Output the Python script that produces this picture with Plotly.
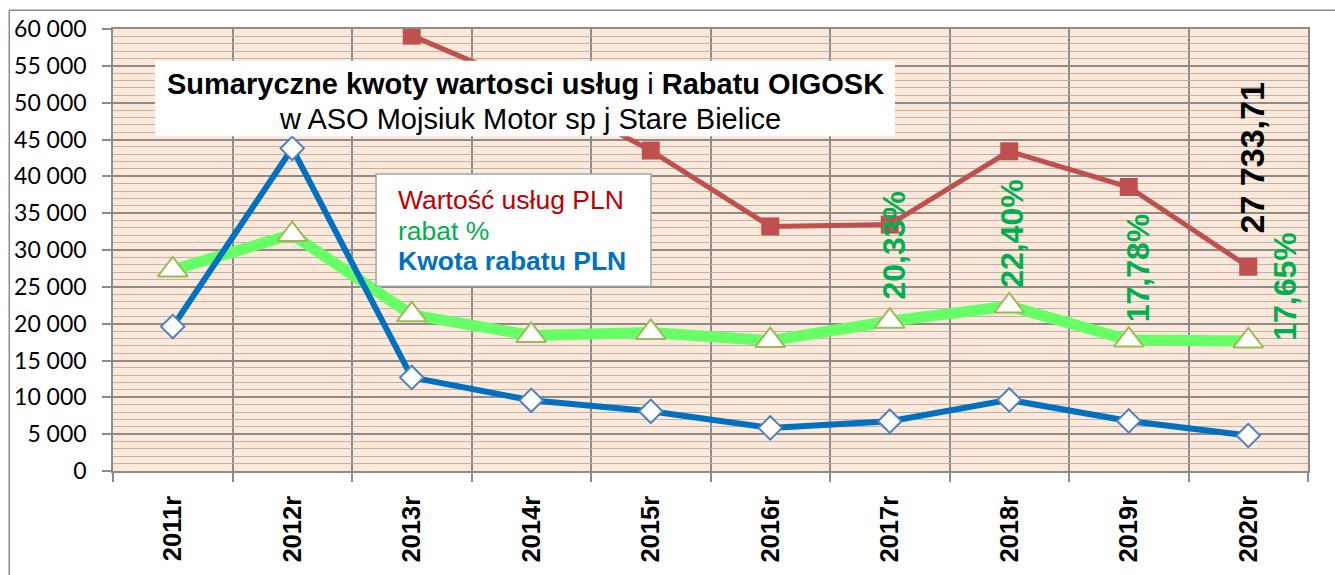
import plotly.graph_objects as go

years = ["2011r", "2012r", "2013r", "2014r", "2015r", "2016r", "2017r", "2018r", "2019r", "2020r"]
wartosc_uslug = [None, None, 59100, 52200, 43500, 33200, 33450, 43400, 38550, 27733.71]
rabat_pct = [27.3, 32.1, 21.2, 18.4, 18.8, 17.7, 20.33, 22.40, 17.78, 17.65]
kwota_rabatu = [19600, 43800, 12700, 9600, 8100, 5850, 6760, 9650, 6800, 4820]
pct_label_years = ["2017r", "2018r", "2019r", "2020r"]
value_label_years = ["2020r"]

title_line1 = "<b>Sumaryczne kwoty wartosci usług</b> i <b>Rabatu OIGOSK</b>"
title_line2 = "w ASO Mojsiuk Motor sp j Stare Bielice"
legend_names = ["Wartość usług PLN", "rabat %", "Kwota rabatu PLN"]

xs = list(range(len(years)))
rabat_scaled = [p * 1000 for p in rabat_pct]

RED = "#C0504D"
BLUE = "#0070C0"
GREEN_LINE = "#66FF66"
GREEN_TXT = "#00B050"
GRID_MAJOR = "#8c8c8c"
GRID_MINOR = "#b8b3b0"

fig = go.Figure()
fig.add_trace(go.Scatter(
    x=xs, y=rabat_scaled, mode="lines+markers", name=legend_names[1],
    line=dict(color=GREEN_LINE, width=11),
    marker=dict(symbol="triangle-up", size=26, color="white",
                line=dict(color="#9BBB59", width=2)),
    cliponaxis=False))
fig.add_trace(go.Scatter(
    x=xs, y=kwota_rabatu, mode="lines+markers", name=legend_names[2],
    line=dict(color=BLUE, width=6),
    marker=dict(symbol="diamond", size=18, color="white",
                line=dict(color="#4F81BD", width=2))))
fig.add_trace(go.Scatter(
    x=xs, y=wartosc_uslug, mode="lines+markers", name=legend_names[0],
    line=dict(color=RED, width=5),
    marker=dict(symbol="square", size=18, color=RED)))

annotations = []
pct_shifts = {"2017r": (4, 20), "2018r": (3, 16), "2019r": (9, 16), "2020r": (37, -2)}
for yr in pct_label_years:
    i = years.index(yr)
    dx, dy = pct_shifts[yr]
    annotations.append(dict(
        x=i, y=rabat_scaled[i], xref="x", yref="y", showarrow=False,
        text="<b>" + f"{rabat_pct[i]:.2f}".replace(".", ",") + "%</b>",
        textangle=-90, xanchor="center", yanchor="bottom",
        xshift=dx, yshift=dy,
        font=dict(family="Liberation Sans", size=32, color=GREEN_TXT)))
for yr in value_label_years:
    i = years.index(yr)
    v = wartosc_uslug[i]
    txt = f"{v:,.2f}".replace(",", " ").replace(".", ",")
    annotations.append(dict(
        x=i, y=v, xref="x", yref="y", showarrow=False,
        text="<b>" + txt + "</b>", textangle=-90,
        xanchor="center", yanchor="bottom", xshift=4, yshift=31,
        font=dict(family="Liberation Sans", size=34, color="black")))

annotations += [
    dict(x=0.3448, y=0.876, xref="paper", yref="paper", showarrow=False,
         text=title_line1, xanchor="center", yanchor="middle",
         font=dict(family="Liberation Sans", size=29, color="black")),
    dict(x=0.349, y=0.797, xref="paper", yref="paper", showarrow=False,
         text=title_line2, xanchor="center", yanchor="middle",
         font=dict(family="Liberation Sans", size=29, color="black")),
    dict(x=0.2368, y=0.6135, xref="paper", yref="paper", showarrow=False,
         text=legend_names[0], xanchor="left", yanchor="middle",
         font=dict(family="Liberation Sans", size=26.5, color="#C00000")),
    dict(x=0.2368, y=0.5438, xref="paper", yref="paper", showarrow=False,
         text=legend_names[1], xanchor="left", yanchor="middle",
         font=dict(family="Liberation Sans", size=26.5, color=GREEN_TXT)),
    dict(x=0.2368, y=0.4742, xref="paper", yref="paper", showarrow=False,
         text="<b>" + legend_names[2] + "</b>", xanchor="left", yanchor="middle",
         font=dict(family="Liberation Sans", size=26.5, color=BLUE)),
]

shapes = [
    # outer chart border (left and top visible)
    dict(type="rect", xref="paper", yref="paper", x0=-0.0868, x1=1.2, y0=-0.4, y1=1.0427,
         line=dict(color="#8c8c8c", width=1.5), fillcolor="rgba(0,0,0,0)", layer="below"),
    # title box
    dict(type="rect", xref="paper", yref="paper", x0=0.0351, x1=0.6544, y0=0.7573, y1=0.9281,
         line=dict(width=0), fillcolor="white", layer="above"),
    # legend box
    dict(type="rect", xref="paper", yref="paper", x0=0.2201, x1=0.4502, y0=0.418, y1=0.672,
         line=dict(color="#a6a6a6", width=1.5), fillcolor="white", layer="above"),
]

fig.update_layout(
    width=1335, height=575,
    margin=dict(l=113, r=27, t=29, b=101),
    paper_bgcolor="white", plot_bgcolor="#FDE9D9",
    showlegend=False, separators=", ",
    annotations=annotations, shapes=shapes,
    xaxis=dict(
        range=[-0.5, 9.5], tickmode="array", tickvals=xs,
        ticktext=["<b>" + y + "</b>" for y in years],
        tickangle=-90, ticks="", showgrid=False, zeroline=False,
        ticklabelstandoff=13,
        tickfont=dict(family="Liberation Sans", size=25.5, color="black"),
        showline=True, mirror=True, linecolor=GRID_MAJOR, linewidth=1.5,
        minor=dict(tick0=-0.5, dtick=1, showgrid=True, gridcolor=GRID_MAJOR,
                   gridwidth=1.5, ticks="outside", ticklen=9,
                   tickcolor=GRID_MAJOR, tickwidth=1.5),
    ),
    yaxis=dict(
        range=[0, 60000], tick0=0, dtick=5000, tickformat=",d",
        showgrid=True, gridcolor=GRID_MAJOR, gridwidth=1.5, zeroline=False,
        ticks="outside", ticklen=9, tickcolor=GRID_MAJOR, tickwidth=1.5,
        ticklabelstandoff=11,
        tickfont=dict(family="Lato", size=23, color="black"),
        showline=True, mirror=True, linecolor=GRID_MAJOR, linewidth=1.5,
        minor=dict(dtick=1000, showgrid=True, gridcolor=GRID_MINOR, gridwidth=1.2,
                   ticks=""),
    ),
)

fig.write_html("out.html", config={"displayModeBar": False},
               post_script="document.body.style.margin='0';")
